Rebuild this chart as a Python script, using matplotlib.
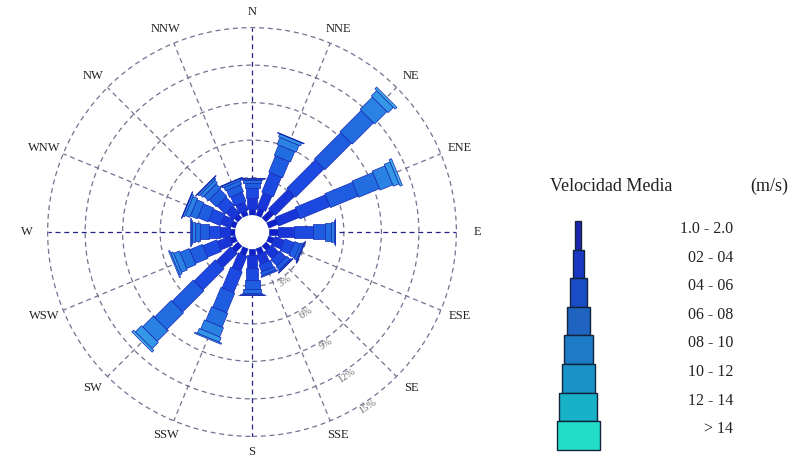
"""Wind rose: frequency by direction and mean-speed class."""

import matplotlib

matplotlib.use("Agg")
import matplotlib.pyplot as plt
import numpy as np
from matplotlib.patches import Circle, Polygon, Rectangle

plt.rcParams["font.family"] = ["Liberation Serif", "DejaVu Serif"]

# --- data -----------------------------------------------------------------
directions = ["N", "NNE", "NE", "ENE", "E", "ESE", "SE", "SSE",
              "S", "SSW", "SW", "WSW", "W", "WNW", "NW", "NNW"]
speed_classes = ["1.0 - 2.0", "02 - 04", "04 - 06", "06 - 08",
                 "08 - 10", "10 - 12", "12 - 14", "> 14"]

# frequency (%) per direction, one column per speed class
freq_N = [0.5, 0.9, 0.8, 0.4, 0.2, 0.1, 0.05, 0.05]
freq_NNE = [0.6, 1.3, 1.7, 1.4, 0.9, 0.6, 0.25, 0.05]
freq_NE = [0.9, 2.2, 3.2, 3.0, 2.4, 1.4, 0.6, 0.2]
freq_ENE = [0.8, 1.8, 2.6, 2.4, 1.8, 1.1, 0.5, 0.2]
freq_E = [0.7, 1.3, 1.5, 1.0, 0.5, 0.2, 0.07, 0.03]
freq_ESE = [0.5, 0.8, 0.8, 0.5, 0.2, 0.07, 0.03, 0.0]
freq_SE = [0.5, 0.8, 0.7, 0.35, 0.1, 0.05, 0.0, 0.0]
freq_SSE = [0.5, 0.8, 0.6, 0.3, 0.1, 0.0, 0.0, 0.0]
freq_S = [0.5, 1.0, 1.0, 0.7, 0.3, 0.12, 0.05, 0.03]
freq_SSW = [0.6, 1.3, 1.8, 1.7, 1.2, 0.8, 0.4, 0.1]
freq_SW = [0.7, 1.6, 2.4, 2.4, 1.9, 1.2, 0.7, 0.2]
freq_WSW = [0.5, 1.0, 1.2, 1.1, 0.8, 0.5, 0.2, 0.1]
freq_W = [0.4, 0.8, 0.9, 0.7, 0.4, 0.25, 0.1, 0.05]
freq_WNW = [0.4, 0.8, 1.0, 0.9, 0.6, 0.4, 0.15, 0.05]
freq_NW = [0.4, 0.8, 0.9, 0.8, 0.5, 0.3, 0.15, 0.05]
freq_NNW = [0.4, 0.7, 0.8, 0.6, 0.3, 0.15, 0.05, 0.0]

ring_levels = [3, 6, 9, 12, 15]

# --- style ----------------------------------------------------------------
ROSE_COLORS = ["#1020c8", "#1836d8", "#1c4ae0", "#1e5ce0",
               "#226ee0", "#2a82e2", "#3498e6", "#40aee8"]
KEY_COLORS = ["#1a26b0", "#1838c4", "#1a4cc6", "#1e64c0",
              "#1c7ac6", "#1a92c8", "#18b2c8", "#22dec8"]
CLASS_WIDTHS = [0.45, 0.75, 1.0, 1.2, 1.4, 1.65, 1.9, 2.3]  # in % units
CALM = 1.35         # radius of the calm circle, % units
PX_PER_UNIT = 12.5
GRID_GREY = "#727290"
AXIS_NAVY = "#23238c"

freq = np.array([freq_N, freq_NNE, freq_NE, freq_ENE, freq_E, freq_ESE,
                 freq_SE, freq_SSE, freq_S, freq_SSW, freq_SW, freq_WSW,
                 freq_W, freq_WNW, freq_NW, freq_NNW])
bearings = np.arange(len(directions)) * 22.5

fig = plt.figure(figsize=(7.92, 4.61), dpi=100)
W, H = 792, 461

# rose axes: 1 data unit = 1 % of time
cx, cy = 252, 232
half = 18.4
side = 2 * half * PX_PER_UNIT
ax = fig.add_axes([(cx - side / 2) / W, (H - cy - side / 2) / H, side / W, side / H])
ax.set_xlim(-half, half)
ax.set_ylim(-half, half)
ax.set_aspect("equal")
ax.axis("off")

outer = CALM + ring_levels[-1]

# rings
for lvl in ring_levels:
    ax.add_patch(Circle((0, 0), CALM + lvl, fill=False, ec=GRID_GREY,
                        lw=0.9, ls=(0, (4, 3)), zorder=1))

# spokes
for b in bearings:
    t = np.deg2rad(b)
    main = b % 90 == 0
    ax.plot([CALM * np.sin(t), outer * np.sin(t)],
            [CALM * np.cos(t), outer * np.cos(t)],
            color=AXIS_NAVY if main else GRID_GREY,
            lw=0.9, ls=(0, (4, 3)), zorder=1)

# stacked, stepped bars
for i, b in enumerate(bearings):
    t = np.deg2rad(b)
    u = np.array([np.sin(t), np.cos(t)])
    p = np.array([np.cos(t), -np.sin(t)])
    start = CALM
    for k, f in enumerate(freq[i]):
        if f <= 0:
            continue
        end = start + f
        w = CLASS_WIDTHS[k] / 2
        corners = [start * u + w * p, end * u + w * p,
                   end * u - w * p, start * u - w * p]
        ax.add_patch(Polygon(corners, closed=True, fc=ROSE_COLORS[k],
                             ec="#1428b4", lw=0.5, zorder=3 + k))
        start = end

ax.add_patch(Circle((0, 0), CALM, fc="white", ec="none", zorder=12))

# direction labels
for name, b in zip(directions, bearings):
    t = np.deg2rad(b)
    ax.text(18.0 * np.sin(t), 17.6 * np.cos(t), name, ha="center",
            va="center", fontsize=9, color="#222222")

# ring labels along the SSE diagonal
lab_t = np.deg2rad(146.5)
for lvl in ring_levels:
    r = CALM + lvl + 0.4
    ax.text(r * np.sin(lab_t), r * np.cos(lab_t), f"{lvl}%", ha="center",
            va="center", fontsize=7.5, color="#6e6e6e", rotation=33,
            zorder=13)

# speed key, drawn in pixel units
key = fig.add_axes([0, 0, 1, 1])
key.set_xlim(0, W)
key.set_ylim(H, 0)
key.axis("off")
key.patch.set_alpha(0)

key.text(611, 186, "Velocidad Media", ha="center", va="center",
         fontsize=13, color="#222222")
key.text(769, 186, "(m/s)", ha="center", va="center", fontsize=13,
         color="#222222")

key_px = [6.7, 11, 17, 23, 29, 33, 38, 43]
top, step = 221, 28.6
for k, label in enumerate(speed_classes):
    y0 = top + k * step
    key.add_patch(Rectangle((578 - key_px[k] / 2, y0), key_px[k], step,
                            fc=KEY_COLORS[k], ec="#12233c", lw=1.0))
    key.text(733, y0 + 8, label, ha="right", va="center", fontsize=11.5,
             color="#222222")

fig.savefig("out.png", dpi=100, facecolor="white")
